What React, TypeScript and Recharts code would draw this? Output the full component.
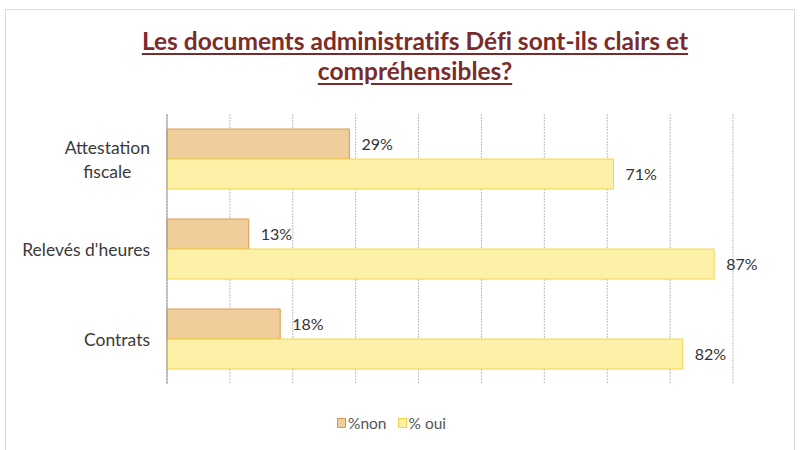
import React from 'react';
import { BarChart, Bar, XAxis, YAxis, CartesianGrid, LabelList } from 'recharts';

const categories = ['Attestation fiscale', "Relevés d'heures", 'Contrats'];
const categoryLines = [['Attestation', 'fiscale'], ["Relevés d'heures"], ['Contrats']];
const nonValues = [0.29, 0.13, 0.18];
const ouiValues = [0.71, 0.87, 0.82];
const xTicks = [0, 0.1, 0.2, 0.3, 0.4, 0.5, 0.6, 0.7, 0.8, 0.9];
const titleLines = ['Les documents administratifs Défi sont-ils clairs et', 'compréhensibles?'];
const seriesNames = ['%non', '% oui'];

const data = categories.map((c, i) => ({ name: c, non: nonValues[i], oui: ouiValues[i] }));

const FONT = 'Lato, "Open Sans", sans-serif';
const NON_FILL = '#EFCE9C';
const NON_STROKE = '#D99A48';
const OUI_FILL = '#FDF1A8';
const OUI_STROKE = '#F2D54C';

let canvas: HTMLCanvasElement | null = null;
function measure(text: string, font: string): number {
  if (!canvas) canvas = document.createElement('canvas');
  const ctx = canvas.getContext('2d')!;
  ctx.font = font;
  return ctx.measureText(text).width;
}

const CategoryTick = (props: any) => {
  const { y, payload } = props;
  const lines = categoryLines[payload.index] || [payload.value];
  const fontSize = 17.5;
  const font = `${fontSize}px Lato`;
  const maxW = Math.max(...lines.map((l) => measure(l, font)));
  const right = 150;
  const cx = right - maxW / 2;
  const lh = 24;
  const startY = y - ((lines.length - 1) * lh) / 2;
  return (
    <g>
      {lines.map((l, i) => (
        <text
          key={i}
          x={cx}
          y={startY + i * lh}
          textAnchor="middle"
          dominantBaseline="central"
          fontFamily={FONT}
          fontSize={fontSize}
          fill="#3a3a3a"
        >
          {l}
        </text>
      ))}
    </g>
  );
};

const pct = (v: any) => `${Math.round(Number(v) * 100)}%`;

const LegendBox = () => (
  <div
    style={{
      position: 'absolute',
      left: 337,
      top: 412,
      display: 'flex',
      alignItems: 'center',
      fontFamily: FONT,
      fontSize: 15.5,
      color: '#555',
      lineHeight: '22px',
      whiteSpace: 'pre',
    }}
  >
    {[
      { name: seriesNames[0], fill: NON_FILL, stroke: NON_STROKE },
      { name: seriesNames[1], fill: OUI_FILL, stroke: OUI_STROKE },
    ].map((s, i) => (
      <span key={i} style={{ display: 'inline-flex', alignItems: 'center', marginLeft: i ? 11 : 0 }}>
        <span style={{ width: 7, height: 8, background: s.fill, border: `1px solid ${s.stroke}`, display: 'inline-block', marginRight: 2 }} />
        {s.name}
      </span>
    ))}
  </div>
);

export default function App() {
  return (
    <div style={{ position: 'absolute', left: 0, top: 0, width: 805, height: 450, background: '#fff', overflow: 'hidden' }}>
      <div style={{ position: 'absolute', left: 5, top: 9, width: 788, height: 460, border: '1px solid #dcdcdc' }} />
      <div
        style={{
          position: 'absolute',
          left: 0,
          top: 26,
          width: 830,
          textAlign: 'center',
          fontFamily: FONT,
          fontWeight: 700,
          fontSize: 24.5,
          lineHeight: '30px',
          color: '#7A2C2C',
          textDecoration: 'underline',
          textUnderlineOffset: 3,
          fontVariantLigatures: 'none',
        }}
      >
        {titleLines.map((t, i) => (
          <div key={i}>{t}</div>
        ))}
      </div>
      <div style={{ position: 'absolute', left: 0, top: 0 }}>
        <BarChart
          width={805}
          height={450}
          data={data}
          layout="vertical"
          margin={{ top: 114, right: 72, bottom: 66, left: 0 }}
          barGap={0}
          barCategoryGap="16.7%"
        >
          <CartesianGrid horizontal={false} stroke="#bdbdbd" strokeDasharray="2 1" />
          <XAxis type="number" domain={[0, 0.9]} ticks={xTicks} hide />
          <YAxis
            type="category"
            dataKey="name"
            width={167}
            tick={<CategoryTick />}
            tickLine={false}
            axisLine={{ stroke: '#9a9a9a' }}
          />
          <Bar dataKey="non" name={seriesNames[0]} fill={NON_FILL} stroke={NON_STROKE} strokeWidth={1} isAnimationActive={false}>
            <LabelList dataKey="non" position="right" offset={12} formatter={pct} fill="#333" fontFamily={FONT} fontSize={16} />
          </Bar>
          <Bar dataKey="oui" name={seriesNames[1]} fill={OUI_FILL} stroke={OUI_STROKE} strokeWidth={1} isAnimationActive={false}>
            <LabelList dataKey="oui" position="right" offset={12} formatter={pct} fill="#333" fontFamily={FONT} fontSize={16} />
          </Bar>
        </BarChart>
      </div>
      <LegendBox />
    </div>
  );
}
